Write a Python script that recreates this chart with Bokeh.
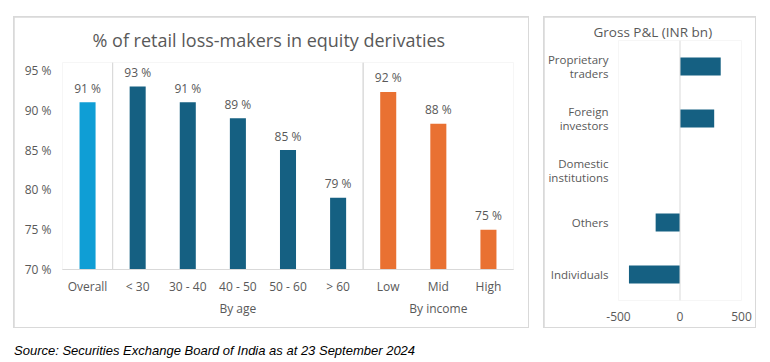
from bokeh.plotting import figure
from bokeh.models import (FactorRange, Range1d, FixedTicker, PrintfTickFormatter,
                          BoxAnnotation, Span, ColumnDataSource, Div, Title, Spacer)
from bokeh.layouts import row, column
from bokeh.embed import file_html
from bokeh.resources import INLINE
from bokeh.core.properties import value

FONT = "Open Sans"
TXT = "#595959"
GRID = "#D9D9D9"

# ---------------- data ----------------
left_title = "% of retail loss-makers in equity derivaties"
groups = ["", "By age", "By age", "By age", "By age", "By age",
          "By income", "By income", "By income"]
cats = ["Overall", "< 30", "30 - 40", "40 - 50", "50 - 60", "> 60", "Low", "Mid", "High"]
pct = [91, 93, 91, 89, 85, 79, 92.3, 88.3, 75]
bar_colors = ["#0F9ED5"] + ["#156082"] * 5 + ["#E97132"] * 3
y_ticks = [70, 75, 80, 85, 90, 95]
y_min, y_max = 70, 96

right_title = "Gross P&L (INR bn)"
investors = ["Proprietary\ntraders", "Foreign\ninvestors", "Domestic\ninstitutions",
             "Others", "Individuals"]
pnl = [331, 278, 0, -198, -415]
x_ticks = [-500, 0, 500]
x_min, x_max = -500, 500

source_note = "Source: Securities Exchange Board of India as at 23 September 2024"

W1, W2, H = 514, 211, 310

# ---------------- left chart ----------------
factors = list(zip(groups, cats))
src1 = ColumnDataSource(dict(x=factors, top=pct, color=bar_colors,
                             label=[f"{round(v)} %" for v in pct]))

p1 = figure(x_range=FactorRange(factors=factors, factor_padding=0, group_padding=0,
                                range_padding=0),
            y_range=Range1d(y_min, y_max),
            width=W1, height=H, output_backend="svg", toolbar_location=None,
            min_border_left=48, min_border_right=15, min_border_top=45,
            min_border_bottom=58)
p1.frame_align = False
p1.title = Title(text=left_title, align="left", offset=30, text_font=FONT,
                 text_font_size="18px", text_color=TXT, text_font_style="normal",
                 standoff=19, vertical_align="middle")
p1.outline_line_color = None
p1.xgrid.visible = False
p1.ygrid.visible = False

p1.vbar(x="x", top="top", bottom=y_min, width=0.32, fill_color="color",
        line_color=None, source=src1)
p1.text(x="x", y="top", text="label", source=src1, text_align="center",
        text_baseline="alphabetic", y_offset=-14, text_font=value(FONT),
        text_font_size="12px", text_color=TXT)

# group separators (inside the plot and through the category axis) and axis edges
bounds = [i for i in range(1, len(groups)) if groups[i] != groups[i - 1]]
axis_floor = y_min - (y_max - y_min) * 0.237
for b in [0] + bounds + [len(cats)]:
    p1.add_layout(BoxAnnotation(left=b, right=b,
                                top=y_max if b in bounds else y_min,
                                bottom=axis_floor, fill_color=None, fill_alpha=0,
                                line_color=GRID, line_width=1, line_alpha=1))

xa = p1.xaxis[0]
xa.axis_line_color = GRID
xa.major_tick_line_color = None
xa.minor_tick_line_color = None
xa.major_label_text_font = FONT
xa.major_label_text_font_size = "12px"
xa.major_label_text_color = TXT
xa.major_label_standoff = 2
xa.group_text_font = FONT
xa.group_text_font_size = "12px"
xa.group_text_color = TXT
xa.group_text_font_style = "normal"
xa.separator_line_color = None

ya = p1.yaxis[0]
ya.ticker = FixedTicker(ticks=y_ticks)
ya.formatter = PrintfTickFormatter(format="%d %%")
ya.axis_line_color = None
ya.major_tick_line_color = None
ya.minor_tick_line_color = None
ya.major_tick_out = 0
ya.major_label_standoff = 11
ya.major_label_text_font = FONT
ya.major_label_text_font_size = "12px"
ya.major_label_text_color = TXT

# ---------------- right chart ----------------
src2 = ColumnDataSource(dict(y=investors, right=pnl))
p2 = figure(y_range=FactorRange(factors=list(reversed(investors)), range_padding=0),
            x_range=Range1d(x_min, x_max),
            width=W2, height=H, output_backend="svg", toolbar_location=None,
            min_border_left=71, min_border_right=14, min_border_top=23,
            min_border_bottom=27)
p2.frame_align = False
p2.title = Title(text=right_title, align="left", offset=-25, text_font=FONT,
                 text_font_size="13.5px", text_color=TXT, text_font_style="normal",
                 standoff=0)
p2.outline_line_color = None
p2.xgrid.visible = False
p2.ygrid.visible = False

p2.hbar(y="y", left=0, right="right", height=0.35, fill_color="#156082",
        line_color=None, source=src2)
p2.add_layout(Span(location=0, dimension="height", line_color=GRID, line_width=1))

xa2 = p2.xaxis[0]
xa2.ticker = FixedTicker(ticks=x_ticks)
xa2.formatter = PrintfTickFormatter(format="%d")
xa2.axis_line_color = None
xa2.major_tick_line_color = None
xa2.minor_tick_line_color = None
xa2.major_tick_out = 0
xa2.major_label_standoff = 11
xa2.major_label_text_font = FONT
xa2.major_label_text_font_size = "12px"
xa2.major_label_text_color = TXT

ya2 = p2.yaxis[0]
ya2.axis_line_color = None
ya2.major_tick_line_color = None
ya2.minor_tick_line_color = None
ya2.major_tick_out = 0
ya2.major_label_standoff = 10
ya2.major_label_text_font = FONT
ya2.major_label_text_font_size = "11.5px"
ya2.major_label_text_color = TXT
ya2.major_label_text_line_height = 0.95


def boxed(p, w, h):
    return column(Spacer(width=w + 2, height=1),
                  row(Spacer(width=1, height=h), p, Spacer(width=1, height=h)),
                  Spacer(width=w + 2, height=1),
                  styles={"background-color": GRID})


note = Div(text=f'<span style="font-family:\'Liberation Sans\',Arial,sans-serif;'
                f'font-style:italic;font-size:13px;color:#000;white-space:nowrap;'
                f'line-height:15px">{source_note}</span>',
           width=600, height=11, margin=0)

layout = column(Spacer(width=10, height=16),
                row(Spacer(width=13, height=H + 2), boxed(p1, W1, H),
                    Spacer(width=14, height=H + 2), boxed(p2, W2, H)),
                Spacer(width=10, height=15),
                row(Spacer(width=14, height=11), note))

open("out.html", "w").write(file_html(layout, INLINE))
